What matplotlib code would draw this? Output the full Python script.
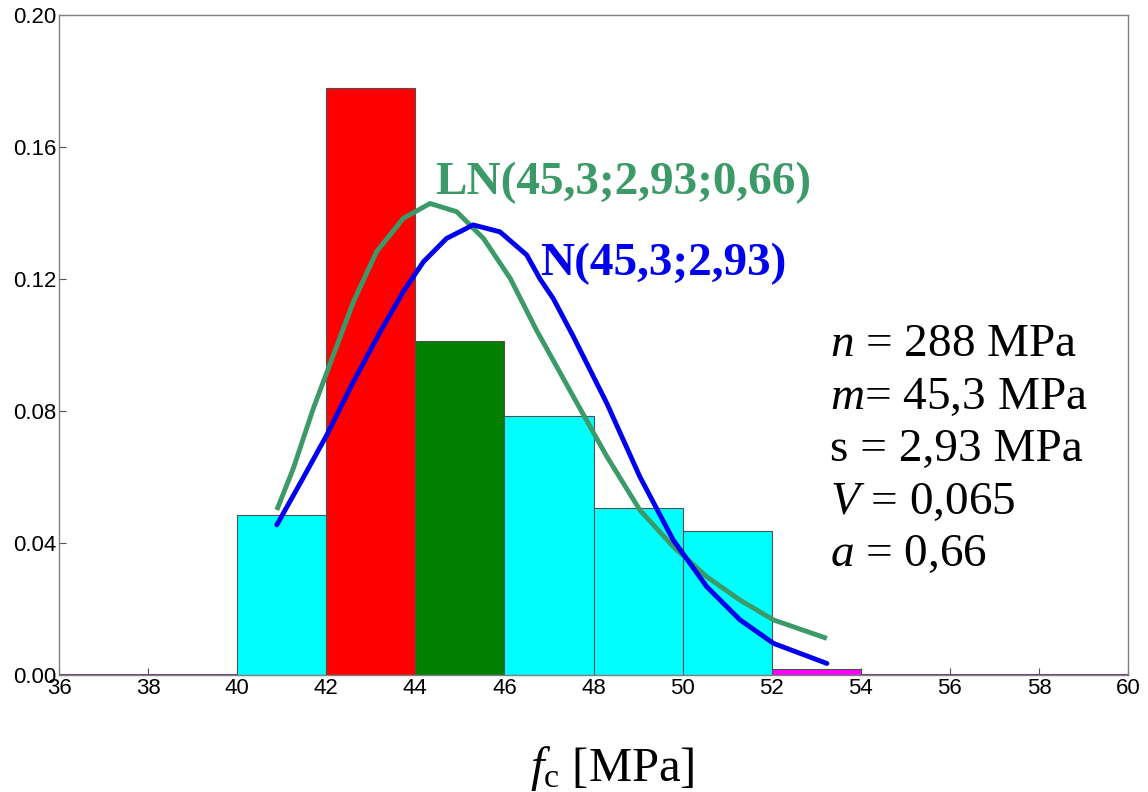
import matplotlib.pyplot as plt
import numpy as np

plt.rcParams['font.family'] = 'Liberation Sans'
plt.rcParams['mathtext.fontset'] = 'custom'
plt.rcParams['mathtext.rm'] = 'Liberation Serif'
plt.rcParams['mathtext.it'] = 'Liberation Serif:italic'

# histogram bins (left edges, width 2 MPa) and relative densities
bin_left = [40, 42, 44, 46, 48, 50, 52]
density = [0.0485, 0.1779, 0.1012, 0.0785, 0.0506, 0.0436, 0.0018]
bar_colors = ['#00FFFF', '#FF0000', '#008000', '#00FFFF', '#00FFFF', '#00FFFF', '#FF00FF']

# normal curve
n_x = [40.89, 41.48, 42.01, 42.61, 43.21, 43.73, 44.18, 44.70, 45.30, 45.90, 46.50,
       46.80, 47.10, 47.55, 48.30, 49.04, 49.79, 50.54, 51.29, 52.04, 53.24]
n_y = [0.0455, 0.0597, 0.0727, 0.0889, 0.104, 0.1162, 0.1252, 0.1323, 0.1364, 0.1343, 0.1273,
       0.1200, 0.1140, 0.1025, 0.0823, 0.0601, 0.0409, 0.0268, 0.0167, 0.0096, 0.0035]

# lognormal curve
ln_x = [40.89, 41.26, 41.71, 42.16, 42.61, 43.13, 43.73, 44.33, 44.93, 45.53, 46.13,
        46.72, 47.55, 48.30, 49.04, 49.79, 50.54, 51.29, 52.04, 53.24]
ln_y = [0.050, 0.0626, 0.0808, 0.097, 0.1131, 0.1283, 0.1384, 0.1429, 0.1404, 0.1323, 0.1202,
        0.1045, 0.0843, 0.0662, 0.050, 0.0389, 0.0298, 0.0227, 0.0167, 0.0111]

stats = ['$n$ = 288 MPa', '$m$= 45,3 MPa', 's = 2,93 MPa', '$V$ = 0,065', '$a$ = 0,66']

fig = plt.figure(figsize=(11.48, 7.92), dpi=100)
ax = fig.add_axes([0.0514, 0.1477, 0.9312, 0.8333])

ax.bar(bin_left, density, width=2, align='edge', color=bar_colors,
       edgecolor='#505050', linewidth=0.8, zorder=2)
ax.plot([36, 60], [0, 0], color='#6E3C78', linewidth=2.2, zorder=1)

ax.plot(ln_x, ln_y, color='#3C9A68', linewidth=3.5, zorder=3,
        solid_capstyle='butt', solid_joinstyle='round')
ax.plot(n_x, n_y, color='#0000EE', linewidth=3.5, zorder=4,
        solid_capstyle='round', solid_joinstyle='round')

ax.text(44.44, 0.149, 'LN(45,3;2,93;0,66)', color='#3C9A68', fontsize=34,
        fontweight='bold', family='Liberation Serif', va='center', ha='left')
ax.text(46.8, 0.1245, 'N(45,3;2,93)', color='#0000EE', fontsize=34,
        fontweight='bold', family='Liberation Serif', va='center', ha='left')

for i, s in enumerate(stats):
    ax.text(53.3, 0.1 - i * 0.0159, s, fontsize=34, family='Liberation Serif',
            va='center', ha='left')

ax.set_xlim(36, 60)
ax.set_ylim(0, 0.20)
ax.set_xticks(np.arange(36, 61, 2))
ax.set_yticks(np.arange(0, 0.201, 0.04))
ax.set_yticklabels(['%.2f' % v for v in np.arange(0, 0.201, 0.04)])
ax.tick_params(direction='in', length=5, width=0.8, color='#505050',
               labelsize=16, pad=2)
for side in ['left', 'top', 'right', 'bottom']:
    ax.spines[side].set_color('#808080')
    ax.spines[side].set_linewidth(1.0)

ax.set_xlabel(r'$f_\mathrm{c}$ [MPa]', fontsize=35, family='Liberation Serif')
ax.xaxis.set_label_coords(0.518, -0.142)
ax.xaxis.label.set_va('center')

plt.savefig('out.png', dpi=100)
